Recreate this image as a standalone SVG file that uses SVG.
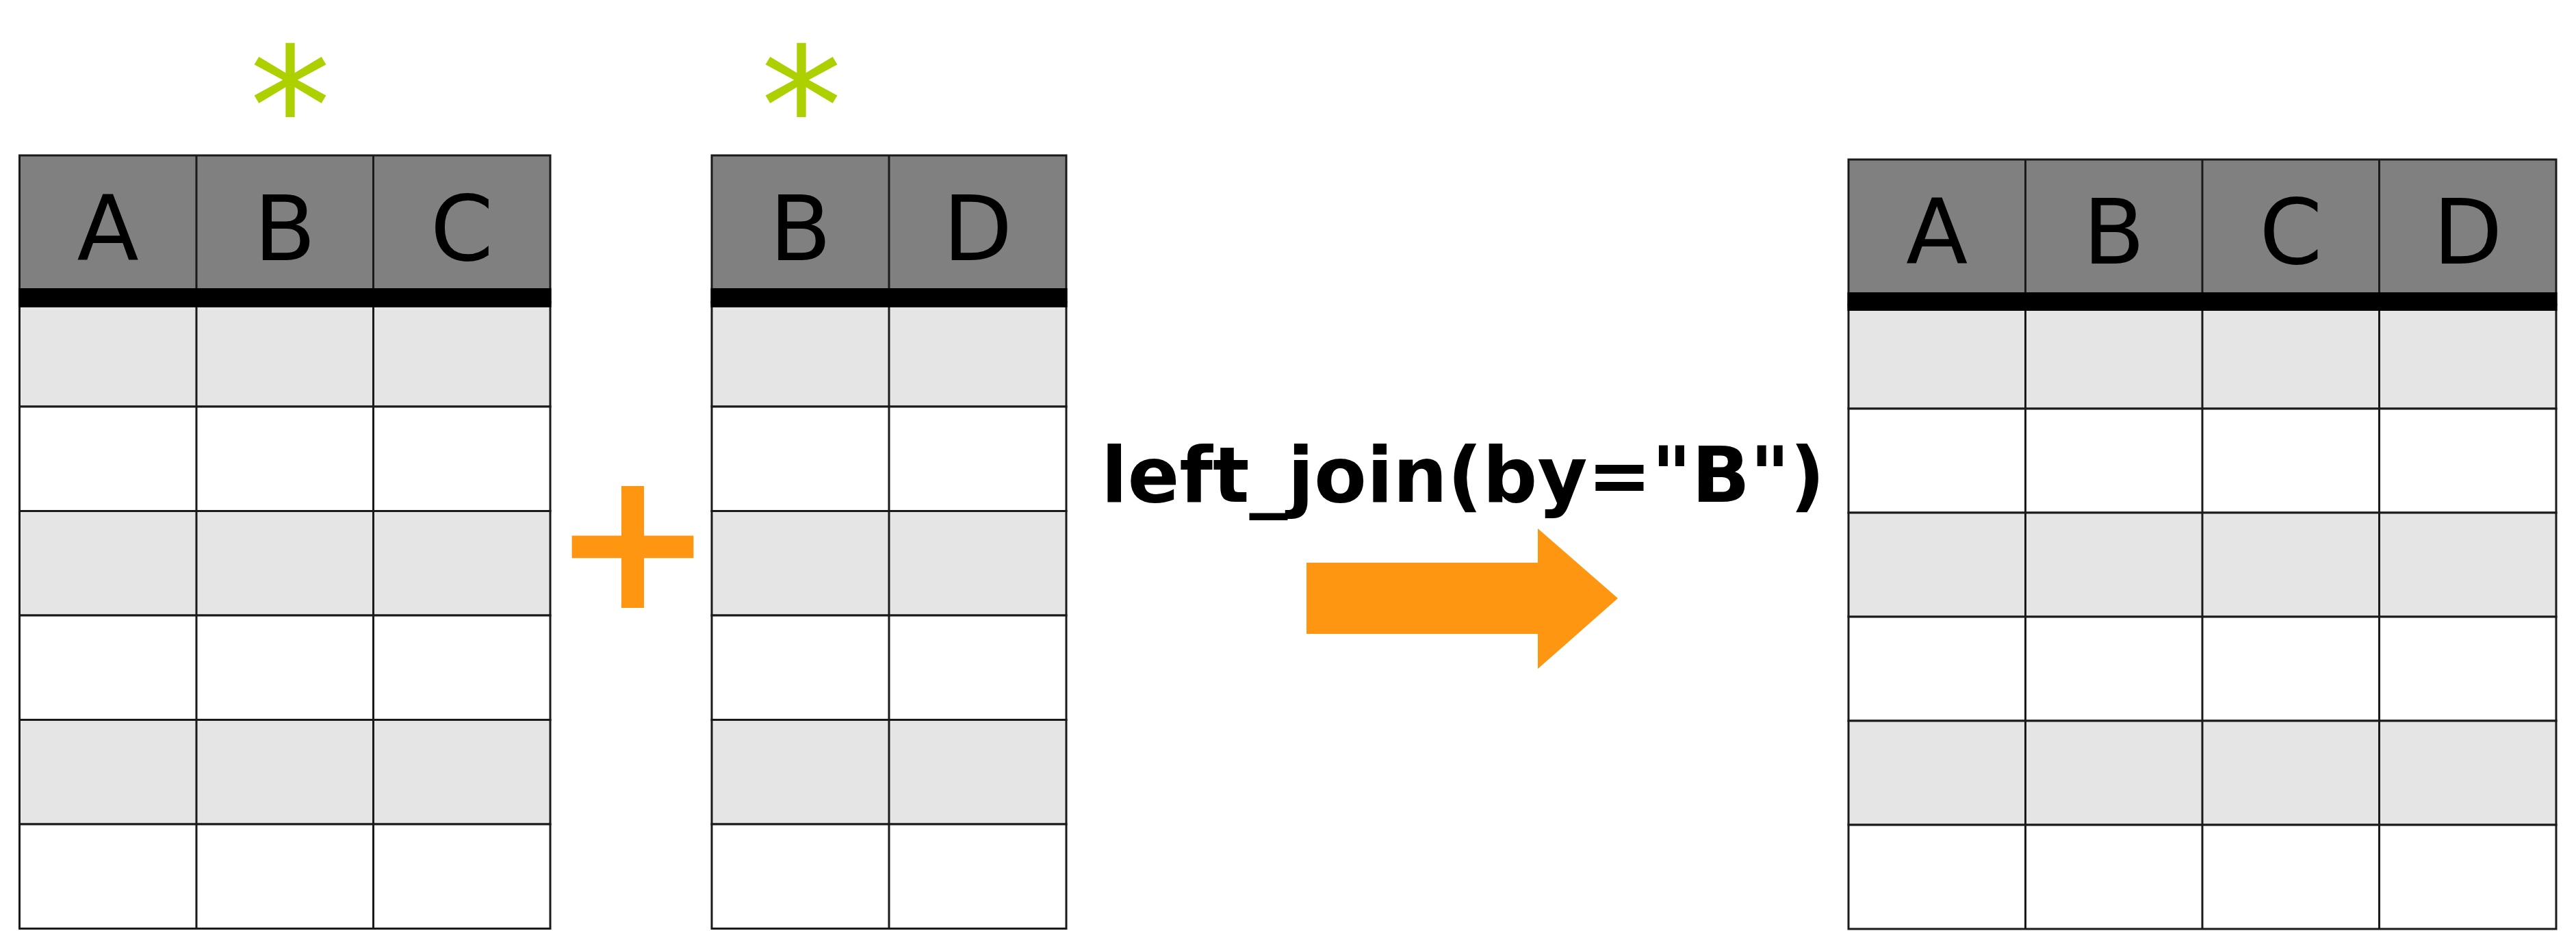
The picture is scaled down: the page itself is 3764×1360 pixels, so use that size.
<svg xmlns="http://www.w3.org/2000/svg" width="3764" height="1360" viewBox="0 0 3764 1360">
<style>
.hd{fill:#808080;stroke:#1a1a1a;stroke-width:3}
.g{fill:#e5e5e5;stroke:#1a1a1a;stroke-width:3}
.w{fill:#ffffff;stroke:#1a1a1a;stroke-width:3}
.vl{stroke:#1a1a1a;stroke-width:3;fill:none}
.band{fill:#000000}
.lt{font-family:"DejaVu Sans",sans-serif;font-size:132px;fill:#000;text-anchor:middle}
.ast{font-family:"DejaVu Sans",sans-serif;font-size:238px;fill:#add000}
.op{fill:#ff9612}
.lbl{font-family:"DejaVu Sans",sans-serif;font-weight:bold;font-size:112px;fill:#000}
</style>
<rect width="3764" height="1360" fill="#ffffff"/>
<g id="table_left">
<rect class="hd" x="28.5" y="227" width="775.5" height="214.5"/>
<rect class="g" x="28.5" y="441.5" width="775.5" height="152.5"/>
<rect class="w" x="28.5" y="594" width="775.5" height="152.5"/>
<rect class="g" x="28.5" y="746.5" width="775.5" height="152.5"/>
<rect class="w" x="28.5" y="899" width="775.5" height="152.5"/>
<rect class="g" x="28.5" y="1051.5" width="775.5" height="152.5"/>
<rect class="w" x="28.5" y="1204" width="775.5" height="152.5"/>
<path class="vl" d="M287 227V1356.5M545.5 227V1356.5"/>
<rect class="band" x="27" y="421" width="778.5" height="28"/>
<text class="lt" x="157.75" y="380">A</text>
<text class="lt" x="416.25" y="380">B</text>
<text class="lt" x="674.75" y="380">C</text>
<text class="ast" x="364.6" y="239">*</text>
</g>
<g id="table_right">
<rect class="hd" x="1040" y="227" width="518" height="214.5"/>
<rect class="g" x="1040" y="441.5" width="518" height="152.5"/>
<rect class="w" x="1040" y="594" width="518" height="152.5"/>
<rect class="g" x="1040" y="746.5" width="518" height="152.5"/>
<rect class="w" x="1040" y="899" width="518" height="152.5"/>
<rect class="g" x="1040" y="1051.5" width="518" height="152.5"/>
<rect class="w" x="1040" y="1204" width="518" height="152.5"/>
<path class="vl" d="M1299 227V1356.5"/>
<rect class="band" x="1038.5" y="421" width="521" height="28"/>
<text class="lt" x="1169.5" y="380">B</text>
<text class="lt" x="1428.5" y="380">D</text>
<text class="ast" x="1111.6" y="239">*</text>
</g>
<g id="plus">
<text x="805.5" y="888" font-family="DejaVu Sans, sans-serif" font-weight="bold" font-size="284" fill="#ff9612">+</text>
</g>
<g id="label">
<text class="lbl" x="1609" y="733">left_join(by="B")</text>
</g>
<g id="connectors">
<polygon class="op" points="1909,822 2247,822 2247,772 2364,874 2247,977 2247,926 1909,926"/>
</g>
<g id="table_result">
<rect class="hd" x="2701" y="233" width="1034" height="212"/>
<rect class="g" x="2701" y="445" width="1034" height="152"/>
<rect class="w" x="2701" y="597" width="1034" height="152"/>
<rect class="g" x="2701" y="749" width="1034" height="152"/>
<rect class="w" x="2701" y="901" width="1034" height="152"/>
<rect class="g" x="2701" y="1053" width="1034" height="152"/>
<rect class="w" x="2701" y="1205" width="1034" height="152"/>
<path class="vl" d="M2959.5 233V1357M3218 233V1357M3476.5 233V1357"/>
<rect class="band" x="2699.5" y="427" width="1037" height="27"/>
<text class="lt" x="2830.25" y="385">A</text>
<text class="lt" x="3088.75" y="385">B</text>
<text class="lt" x="3347.25" y="385">C</text>
<text class="lt" x="3605.75" y="385">D</text>
</g>
</svg>
